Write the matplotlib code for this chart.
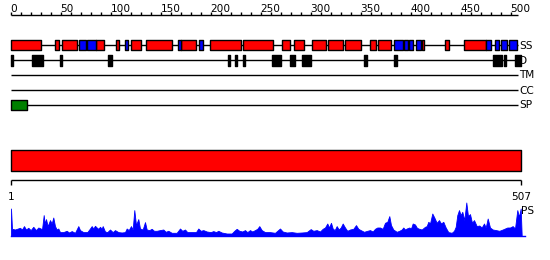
import matplotlib
matplotlib.use("Agg")
import matplotlib.pyplot as plt
import numpy as np

plt.rcParams['font.family'] = ['DejaVu Sans']

# ---------------- data ----------------
seq_len = 507
ruler_ticks = list(range(0, 501, 10))
ruler_labels = list(range(0, 501, 50))

ss_helix = [(0, 30), (44, 48), (51, 66), (85, 93), (105, 108), (120, 130), (135, 161),
            (170, 185), (199, 230), (232, 262), (271, 279), (283, 293), (301, 315),
            (317, 332), (334, 350), (359, 365), (367, 380), (411, 413), (434, 438), (453, 475)]
ss_strand = [(68, 75), (76, 85), (114, 117), (167, 170), (188, 192), (383, 392), (393, 397),
             (398, 402), (405, 410), (475, 480), (484, 488), (490, 496), (498, 506)]
disorder = [(0, 2), (21, 32), (49, 51), (97, 101), (217, 219), (224, 226), (232, 234),
            (261, 270), (279, 284), (291, 300), (353, 356), (383, 386), (482, 491),
            (493, 494.5), (504, 510)]
tm_segments = []
cc_segments = []
sp_segments = [(0, 15.7)]
domains = [(0, 509.7)]
bottom_labels = ["1", "507"]

ps_pos = [0, 1, 4, 9, 11, 13, 15, 17.3, 19.7, 22.3, 25, 27.3, 29.7, 31, 32.7, 33.7, 35, 36.7,
          39, 40.7, 42.3, 44, 45.7, 47.3, 49, 52.3, 55.7, 58, 60.7, 64, 67.3, 69, 72.3, 76.3,
          79, 80.7, 82.3, 84, 85.7, 87.3, 89, 90.7, 91.7, 94, 96.3, 99, 101.7, 104, 107.3,
          110.7, 114, 115.7, 117.7, 120, 121.7, 123.3, 125, 127.3, 129, 131.7, 134, 135.7,
          138.3, 140.7, 143, 145.7, 149, 152.3, 154.7, 157.3, 160.7, 165.7, 169, 171.3, 174,
          176.3, 180.7, 185, 187.3, 189.7, 192.3, 195.7, 199.7, 202.3, 205, 207.3, 210.7,
          215.7, 220.7, 223.3, 225.7, 228.3, 231.3, 234, 236.3, 239, 241.3, 244, 246.3,
          248.3, 250.7, 254, 259, 264, 269, 271.7, 275.7, 280.7, 285.7, 290.7, 295.7, 299.7,
          302.3, 305.7, 309, 311.7, 314, 316.3, 318, 320, 321.7, 323.7, 325.7, 327.7, 329.7,
          331.7, 334, 336.3, 339, 342.3, 345, 347.3, 349.7, 353, 356.3, 359, 361.7, 364,
          366.3, 369, 371.7, 374, 376.3, 378.3, 380, 382.3, 385.7, 388.3, 390.7, 392.3, 394,
          395.7, 398.3, 400, 401.7, 404, 405.7, 407.3, 410.7, 414, 415.7, 417.3, 419, 421.3,
          423.3, 425.7, 428, 430, 432.3, 434.7, 437.3, 440.7, 443, 444.7, 446.3, 448, 449.7,
          451.3, 453.3, 455.3, 457, 459, 461, 463, 465.7, 468.3, 470.7, 473, 474.7, 476.7,
          479, 481.7, 485, 488.3, 491.7, 494, 496.3, 499, 501.7, 504, 506.3, 508, 509.7, 510.7]
ps_val = [27.3, 7, 6.3, 8, 6.3, 9.7, 6.3, 8, 5.7, 9, 5.7, 8.3, 7.3, 6.3, 20.7, 12.3, 16.7, 9.7,
          15.7, 12.3, 18.3, 9.7, 6.3, 7.3, 3.7, 3.7, 5, 3.3, 4.7, 3, 9.7, 5.7, 3.7, 3.7,
          7.3, 9.7, 7.3, 10, 8.3, 7, 9, 7, 9.7, 4.3, 3.7, 6.3, 3.7, 5.7, 3.7,
          3.3, 3.7, 7.3, 5.7, 9.7, 6.3, 25.7, 10.7, 16.7, 7.3, 6.3, 13.7, 6.3,
          5.7, 7, 5, 5, 5.7, 6.3, 4, 5, 3, 3, 7.3, 5, 6.3,
          3.7, 3.7, 3.7, 7.3, 5, 5.7, 4.3, 3.7, 4.7, 3.7, 5, 3.3,
          2.3, 2.3, 5, 7, 5, 4.3, 5.7, 3.7, 5.7, 4.3, 5.7, 7,
          9.7, 5.7, 3.7, 3.7, 3, 7.3, 4.3, 3.3, 3.7, 3, 3.3, 3.7, 6.7,
          5, 5.7, 4.3, 7, 8.3, 12.3, 8.3, 13, 7.3, 5.7, 9.7, 6.3, 8.3,
          12.3, 8.3, 5, 6.3, 7, 10.7, 7, 5.7, 4, 5, 5.7, 4.3, 7,
          8.3, 8.3, 7, 13, 14, 19.7, 10.7, 6.3, 4, 5, 6.3, 8.3, 6.3,
          7.3, 8.3, 7.3, 12.3, 11.3, 8.3, 7.3, 6.3, 9, 9.7, 14, 12.3, 22.3,
          18.3, 13, 15.7, 12.3, 14, 8.3, 3.7, 3, 5, 9, 20.7, 25.7, 20.7,
          24, 15.7, 33.3, 19.7, 21.7, 13, 15.7, 9.7, 10.3, 8.3, 12.3, 8.3, 17.3,
          8.3, 6.3, 5.7, 5, 6.3, 7.3, 8.3, 8.3, 9.7, 7.3, 25.7, 19, 27.3, 0]

# ---------------- layout ----------------
W, H = 550, 260
fig = plt.figure(figsize=(W / 100, H / 100), dpi=100)
ax = fig.add_axes([0, 0, 1, 1])
x0 = 11  # pixel offset of residue 0
ax.set_xlim(-x0, W - x0)
ax.set_ylim(H, 0)
ax.axis('off')

fs = 7.6
lw = 1.0

# top ruler
ruler_y = 15.2
ax.plot([0, seq_len], [ruler_y, ruler_y], color='black', lw=lw, solid_capstyle='butt')
for t in ruler_ticks:
    ax.plot([t, t], [ruler_y, ruler_y - 2.8], color='black', lw=lw, solid_capstyle='butt')
for t in ruler_labels:
    ax.text(t - 0.5, 12.2, str(t), ha='left', va='baseline', fontsize=fs, color='black')

# tracks
tracks = [("SS", 45.3), ("D", 60.4), ("TM", 75.2), ("CC", 90.2), ("SP", 105.2)]
for name, y in tracks:
    ax.plot([0, seq_len], [y, y], color='black', lw=lw, solid_capstyle='butt', zorder=1)
    ax.text(seq_len + 1.5, y + 0.3, name, ha='left', va='center', fontsize=fs, color='black')

def draw_boxes(segs, y, h, face, edge):
    if segs:
        ax.broken_barh([(s, e - s) for s, e in segs], (y - h / 2, h),
                       facecolors=face, edgecolors=edge, linewidth=lw, zorder=3)

draw_boxes(ss_helix, 45.3, 10.4, '#ff0000', 'black')
draw_boxes(ss_strand, 45.3, 10.4, '#0000ff', 'black')
draw_boxes(disorder, 60.5, 10.6, 'black', 'black')
draw_boxes(tm_segments, 75.2, 10.4, '#ff00ff', 'black')
draw_boxes(cc_segments, 90.2, 10.4, '#ffa500', 'black')
draw_boxes(sp_segments, 105.2, 10.2, '#008000', 'black')

# domain bar
ax.broken_barh([(s, e - s) for s, e in domains], (150.2, 20.4),
               facecolors='#ff0000', edgecolors='black', linewidth=lw, zorder=3)

# bottom ruler
by = 180.2
d_end = domains[-1][1]
ax.plot([0, d_end], [by, by], color='black', lw=lw, solid_capstyle='butt')
for xx in (0, d_end):
    ax.plot([xx, xx], [by, by + 4.5], color='black', lw=lw, solid_capstyle='butt')
ax.text(0, 200, bottom_labels[0], ha='center', va='baseline', fontsize=fs)
ax.text(d_end, 200, bottom_labels[1], ha='center', va='baseline', fontsize=fs)

# PS profile
base = 235.8
pp = np.array(ps_pos)
pv = np.array(ps_val)
ax.fill_between(pp, base, base - pv, color='#0000ff', lw=0.6, zorder=2)
ax.plot([0, d_end + 4.5], [base, base], color='#0000ff', lw=lw)
ax.text(d_end + 0.5, 211.5, "PS", ha='left', va='center', fontsize=fs)

fig.savefig("out.png", dpi=100)
